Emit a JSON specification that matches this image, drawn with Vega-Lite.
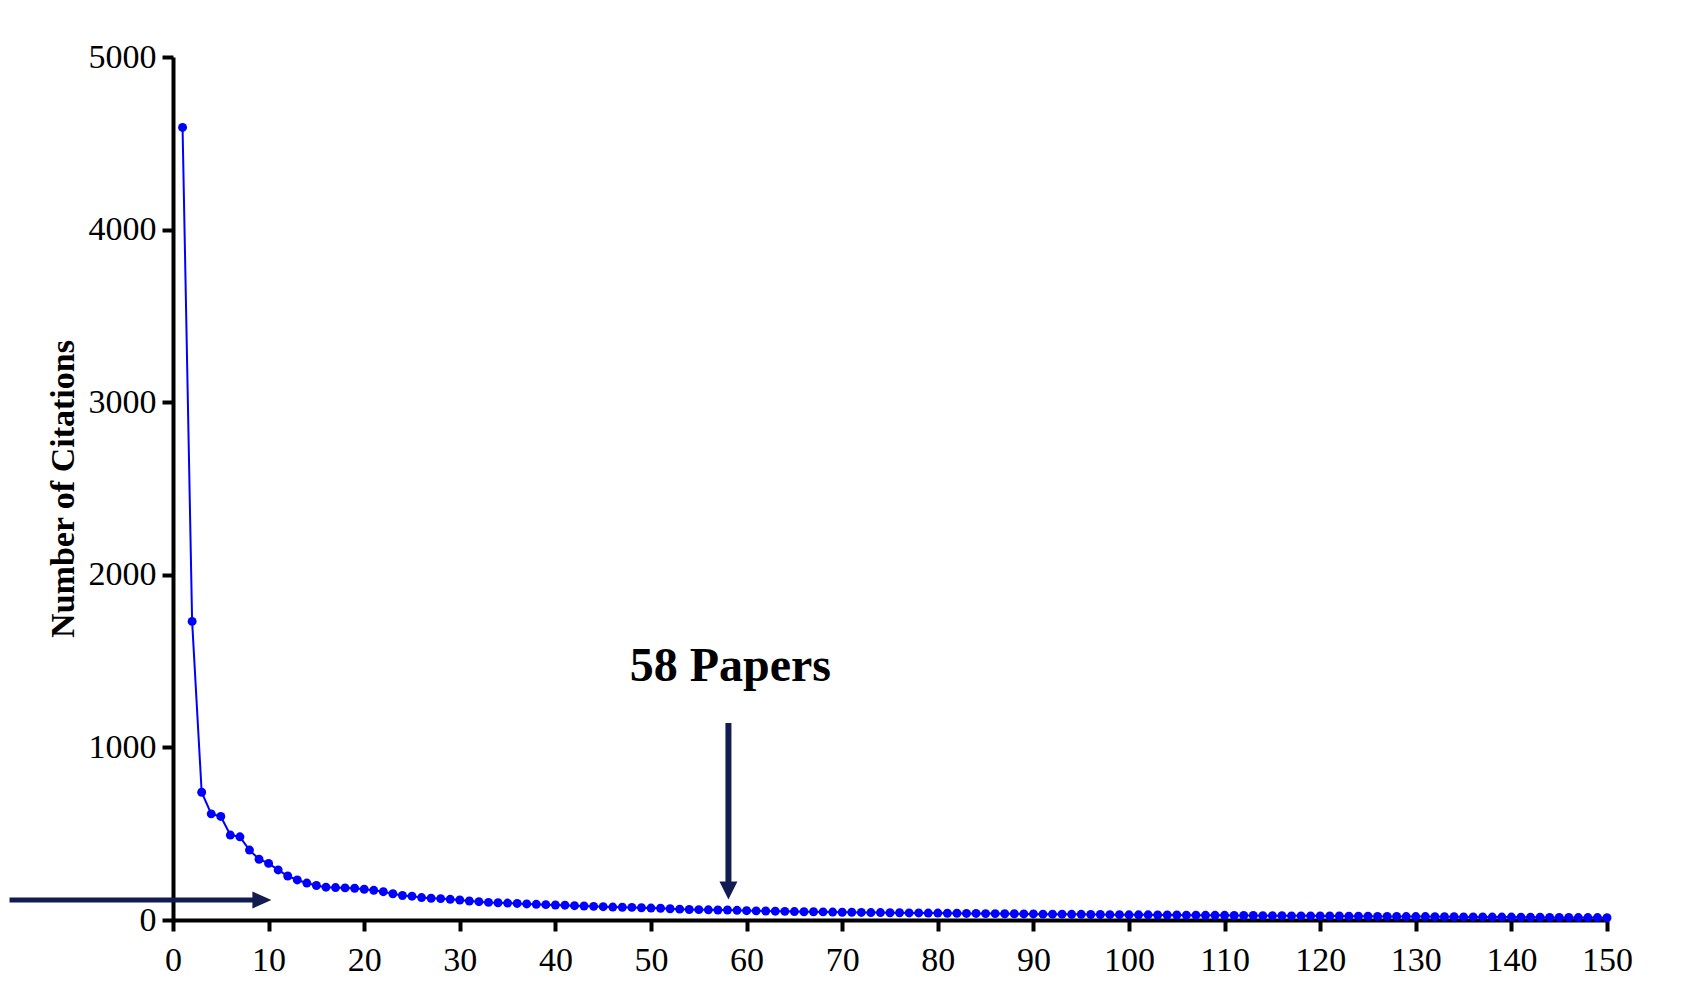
{
  "$schema": "https://vega.github.io/schema/vega-lite/v6.json",
  "width": 1434,
  "height": 863,
  "autosize": {"type": "none"},
  "padding": {"left": 173, "top": 57, "right": 84, "bottom": 79},
  "background": "white",
  "config": {
    "view": {"stroke": null},
    "font": "Liberation Serif"
  },
  "datasets": {
    "papers": [
      {"rank":1,"citations":4592},{"rank":2,"citations":1730},{"rank":3,"citations":740},{"rank":4,"citations":615},{"rank":5,"citations":600},
      {"rank":6,"citations":492},{"rank":7,"citations":482},{"rank":8,"citations":405},{"rank":9,"citations":352},{"rank":10,"citations":328},
      {"rank":11,"citations":290},{"rank":12,"citations":255},{"rank":13,"citations":232},{"rank":14,"citations":214},{"rank":15,"citations":200},
      {"rank":16,"citations":190},{"rank":17,"citations":188},{"rank":18,"citations":186},{"rank":19,"citations":184},{"rank":20,"citations":178},
      {"rank":21,"citations":172},{"rank":22,"citations":164},{"rank":23,"citations":152},{"rank":24,"citations":142},{"rank":25,"citations":138},
      {"rank":26,"citations":130},{"rank":27,"citations":126},{"rank":28,"citations":124},{"rank":29,"citations":120},{"rank":30,"citations":116},
      {"rank":31,"citations":110},{"rank":32,"citations":106},{"rank":33,"citations":102},{"rank":34,"citations":100},{"rank":35,"citations":98},
      {"rank":36,"citations":96},{"rank":37,"citations":93},{"rank":38,"citations":91},{"rank":39,"citations":89},{"rank":40,"citations":87},
      {"rank":41,"citations":86},{"rank":42,"citations":83},{"rank":43,"citations":81},{"rank":44,"citations":79},{"rank":45,"citations":77},
      {"rank":46,"citations":75},{"rank":47,"citations":74},{"rank":48,"citations":73},{"rank":49,"citations":71},{"rank":50,"citations":69},
      {"rank":51,"citations":68},{"rank":52,"citations":65},{"rank":53,"citations":63},{"rank":54,"citations":61},{"rank":55,"citations":60},
      {"rank":56,"citations":59},{"rank":57,"citations":58},{"rank":58,"citations":58},{"rank":59,"citations":56},{"rank":60,"citations":54},
      {"rank":61,"citations":53},{"rank":62,"citations":52},{"rank":63,"citations":51},{"rank":64,"citations":50},{"rank":65,"citations":49},
      {"rank":66,"citations":48},{"rank":67,"citations":48},{"rank":68,"citations":47},{"rank":69,"citations":46},{"rank":70,"citations":45},
      {"rank":71,"citations":45},{"rank":72,"citations":44},{"rank":73,"citations":43},{"rank":74,"citations":43},{"rank":75,"citations":42},
      {"rank":76,"citations":42},{"rank":77,"citations":41},{"rank":78,"citations":41},{"rank":79,"citations":40},{"rank":80,"citations":40},
      {"rank":81,"citations":39},{"rank":82,"citations":39},{"rank":83,"citations":38},{"rank":84,"citations":38},{"rank":85,"citations":37},
      {"rank":86,"citations":37},{"rank":87,"citations":36},{"rank":88,"citations":36},{"rank":89,"citations":35},{"rank":90,"citations":35},
      {"rank":91,"citations":34},{"rank":92,"citations":34},{"rank":93,"citations":34},{"rank":94,"citations":33},{"rank":95,"citations":33},
      {"rank":96,"citations":32},{"rank":97,"citations":32},{"rank":98,"citations":31},{"rank":99,"citations":31},{"rank":100,"citations":30},
      {"rank":101,"citations":30},{"rank":102,"citations":30},{"rank":103,"citations":29},{"rank":104,"citations":29},{"rank":105,"citations":29},
      {"rank":106,"citations":28},{"rank":107,"citations":28},{"rank":108,"citations":27},{"rank":109,"citations":27},{"rank":110,"citations":27},
      {"rank":111,"citations":26},{"rank":112,"citations":26},{"rank":113,"citations":26},{"rank":114,"citations":25},{"rank":115,"citations":25},
      {"rank":116,"citations":25},{"rank":117,"citations":24},{"rank":118,"citations":24},{"rank":119,"citations":24},{"rank":120,"citations":23},
      {"rank":121,"citations":23},{"rank":122,"citations":23},{"rank":123,"citations":22},{"rank":124,"citations":22},{"rank":125,"citations":22},
      {"rank":126,"citations":21},{"rank":127,"citations":21},{"rank":128,"citations":21},{"rank":129,"citations":20},{"rank":130,"citations":20},
      {"rank":131,"citations":20},{"rank":132,"citations":19},{"rank":133,"citations":19},{"rank":134,"citations":19},{"rank":135,"citations":18},
      {"rank":136,"citations":18},{"rank":137,"citations":18},{"rank":138,"citations":17},{"rank":139,"citations":17},{"rank":140,"citations":17},
      {"rank":141,"citations":16},{"rank":142,"citations":16},{"rank":143,"citations":16},{"rank":144,"citations":15},{"rank":145,"citations":15},
      {"rank":146,"citations":15},{"rank":147,"citations":14},{"rank":148,"citations":14},{"rank":149,"citations":14},{"rank":150,"citations":13}
    ],
    "hArrow": [{"x": -17.1, "x2": 9.4, "y": 116, "head": 9.3}],
    "vArrow": [{"x": 58.1, "y": 1141, "y2": 171, "head": 171}],
    "label": [{"x": 58.3, "y": 1384, "text": "58 Papers"}]
  },
  "layer": [
    {
      "data": {"name": "papers"},
      "mark": {"type": "line", "color": "#0000ff", "strokeWidth": 2},
      "encoding": {
        "x": {
          "field": "rank", "type": "quantitative",
          "scale": {"domain": [0, 150], "nice": false},
          "axis": {
            "values": [0,10,20,30,40,50,60,70,80,90,100,110,120,130,140,150],
            "format": "d",
            "title": null, "grid": false,
            "domainColor": "black", "domainWidth": 4,
            "tickColor": "black", "tickWidth": 4, "tickSize": 11,
            "labelFont": "Liberation Serif", "labelFontSize": 34, "labelColor": "black",
            "labelPadding": 12, "labelFlush": false, "labelOverlap": false
          }
        },
        "y": {
          "field": "citations", "type": "quantitative",
          "scale": {"domain": [0, 5000], "nice": false},
          "axis": {
            "values": [0,1000,2000,3000,4000,5000],
            "format": "d",
            "title": "Number of Citations", "grid": false,
            "titleFont": "Liberation Serif", "titleFontSize": 34, "titleFontWeight": "bold",
            "titleColor": "black", "titlePadding": 8,
            "domainColor": "black", "domainWidth": 4,
            "tickColor": "black", "tickWidth": 4, "tickSize": 11,
            "labelFont": "Liberation Serif", "labelFontSize": 34, "labelColor": "black",
            "labelPadding": 6, "labelFlush": false, "labelOverlap": false
          }
        }
      }
    },
    {
      "data": {"name": "papers"},
      "mark": {"type": "point", "filled": true, "color": "#0000ff", "size": 80, "opacity": 1},
      "encoding": {
        "x": {"field": "rank", "type": "quantitative"},
        "y": {"field": "citations", "type": "quantitative"}
      }
    },
    {
      "data": {"name": "hArrow"},
      "mark": {"type": "rule", "color": "#131c50", "strokeWidth": 5, "strokeCap": "butt"},
      "encoding": {
        "x": {"field": "x", "type": "quantitative"},
        "x2": {"field": "x2"},
        "y": {"field": "y", "type": "quantitative"}
      }
    },
    {
      "data": {"name": "hArrow"},
      "mark": {"type": "point", "filled": true, "color": "#131c50", "opacity": 1, "size": 361, "shape": "M-1,-0.9L1,0L-1,0.9Z"},
      "encoding": {
        "x": {"field": "head", "type": "quantitative"},
        "y": {"field": "y", "type": "quantitative"}
      }
    },
    {
      "data": {"name": "vArrow"},
      "mark": {"type": "rule", "color": "#131c50", "strokeWidth": 6, "strokeCap": "butt"},
      "encoding": {
        "x": {"field": "x", "type": "quantitative"},
        "y": {"field": "y", "type": "quantitative"},
        "y2": {"field": "y2"}
      }
    },
    {
      "data": {"name": "vArrow"},
      "mark": {"type": "point", "filled": true, "color": "#131c50", "opacity": 1, "size": 324, "shape": "M-1,-1L0,1L1,-1Z"},
      "encoding": {
        "x": {"field": "x", "type": "quantitative"},
        "y": {"field": "head", "type": "quantitative"}
      }
    },
    {
      "data": {"name": "label"},
      "mark": {"type": "text", "font": "Liberation Serif", "fontSize": 48, "fontWeight": "bold", "color": "black", "align": "center", "baseline": "alphabetic"},
      "encoding": {
        "x": {"field": "x", "type": "quantitative"},
        "y": {"field": "y", "type": "quantitative"},
        "text": {"field": "text"}
      }
    }
  ]
}
